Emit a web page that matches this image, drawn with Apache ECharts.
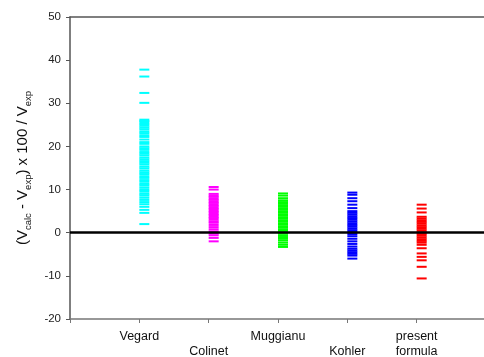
<!DOCTYPE html>
<html>
<head>
<meta charset="utf-8">
<script src="https://cdn.jsdelivr.net/npm/echarts@6/dist/echarts.min.js"></script>
<style>
  html, body { margin: 0; padding: 0; background: #fff; }
  #chart { width: 484px; height: 357px; }
</style>
</head>
<body>
<div id="chart"></div>
<script>
// categories along the x axis (positions 1..5)
const categories = ['Vegard', 'Colinet', 'Muggianu', 'Kohler', 'present\nformula'];
const colors = ['#00ffff', '#ff00ff', '#00ff00', '#0000ff', '#ff0000'];
const yTicks = [-20, -10, 0, 10, 20, 30, 40, 50];

// deviations (%), one list per method
const vegard = [37.8, 36.2, 32.4, 30.1, 26.2, 25.9, 25.6, 25.2, 24.8, 24.4, 24.0, 23.5, 23.1, 22.6,
  22.2, 21.6, 21.0, 20.6, 20.0, 19.6, 19.2, 18.7, 18.3, 17.9, 17.4, 17.0, 16.6, 16.2, 15.8, 15.3,
  14.9, 14.4, 14.0, 13.6, 13.1, 12.7, 12.2, 11.8, 11.3, 10.9, 10.4, 9.9, 9.5, 9.0, 8.6, 8.1, 7.6,
  7.1, 6.6, 6.0, 5.3, 4.6, 2.0];
const colinet = [10.6, 10.0, 9.0, 8.6, 8.3, 7.9, 7.6, 7.2, 6.9, 6.5, 6.2, 5.8, 5.5, 5.1, 4.8, 4.4,
  4.1, 3.7, 3.4, 3.0, 2.6, 2.3, 1.8, 1.3, 0.8, 0.3, -0.2, -0.6, -1.2, -2.0];
const muggianu = [9.1, 8.6, 8.0, 7.5, 7.1, 6.8, 6.4, 6.1, 5.7, 5.4, 5.0, 4.7, 4.3, 4.0, 3.6, 3.3,
  2.9, 2.6, 2.2, 1.9, 1.5, 1.2, 0.8, 0.5, 0.2, -0.2, -0.6, -1.0, -1.4, -1.8, -2.3, -2.8, -3.3];
const kohler = [9.3, 8.8, 8.0, 7.3, 6.5, 5.7, 5.0, 4.6, 4.2, 3.8, 3.4, 3.0, 2.6, 2.2, 1.8, 1.4,
  1.0, 0.6, 0.2, -0.3, -0.8, -1.4, -2.0, -2.6, -3.2, -3.7, -4.1, -4.5, -4.9, -5.3, -6.0];
const present = [6.5, 5.6, 4.7, 3.7, 3.3, 2.9, 2.5, 2.1, 1.7, 1.3, 0.9, 0.5, 0.1, -0.3, -0.7, -1.1,
  -1.5, -1.9, -2.3, -2.8, -3.6, -4.8, -5.6, -6.4, -7.9, -10.6];

const groups = [vegard, colinet, muggianu, kohler, present];
const font = 'Liberation Sans, Arial, sans-serif';

const chart = echarts.init(document.getElementById('chart'));

const series = groups.map((vals, i) => ({
  type: 'scatter',
  name: categories[i],
  data: vals.map((v) => [i + 1, v]),
  symbol: 'rect',
  symbolSize: [10, 2],
  symbolOffset: [5, 0],
  itemStyle: { color: colors[i], opacity: 1 },
  silent: true,
  z: 3
}));

// zero reference line
series.push({
  type: 'line',
  data: [],
  markLine: {
    silent: true,
    symbol: 'none',
    label: { show: false },
    lineStyle: { color: '#000', width: 2.5, type: 'solid' },
    data: [{ yAxis: 0 }]
  },
  z: 5
});

chart.setOption({
  backgroundColor: '#fff',
  animation: false,
  grid: { left: 70, top: 17, width: 416, bottom: 38, outerBoundsMode: 'none' },
  xAxis: [
    {
      type: 'value',
      min: 0,
      max: 6,
      interval: 1,
      position: 'bottom',
      splitLine: { show: false },
      axisLine: { show: true, onZero: false, lineStyle: { color: '#777', width: 1.5 } },
      axisTick: { show: true, length: 4, lineStyle: { color: '#777' } },
      axisLabel: {
        margin: 10,
        color: '#111',
        fontFamily: font,
        fontSize: 12.5,
        lineHeight: 15,
        formatter: (v) => {
          const name = categories[v - 1];
          if (!name) return '';
          return (v === 2 || v === 4) ? '\n' + name : name;
        }
      }
    },
    {
      type: 'value',
      min: 0,
      max: 6,
      position: 'top',
      splitLine: { show: false },
      axisLine: { show: true, onZero: false, lineStyle: { color: '#555', width: 1.5 } },
      axisTick: { show: false },
      axisLabel: { show: false }
    }
  ],
  yAxis: {
    type: 'value',
    min: yTicks[0],
    max: yTicks[yTicks.length - 1],
    interval: 10,
    splitLine: { show: false },
    axisLine: { show: true, onZero: false, lineStyle: { color: '#555', width: 1.5 } },
    axisTick: { show: true, length: 4, lineStyle: { color: '#555' } },
    axisLabel: { margin: 9, color: '#222', fontFamily: font, fontSize: 11.5 },
    name: '{n|(V}{s|calc}{n| - V}{s|exp}{n|) x 100 / V}{s|exp}',
    nameLocation: 'middle',
    nameRotate: 90,
    nameGap: 40,
    nameTextStyle: {
      fontFamily: font,
      color: '#111',
      rich: {
        n: { fontSize: 15, fontFamily: font, color: '#111', lineHeight: 20, verticalAlign: 'bottom' },
        s: { fontSize: 9.5, fontFamily: font, color: '#111', lineHeight: 20, verticalAlign: 'bottom', padding: [0, 0, -3, 0] }
      }
    }
  },
  series: series
});
</script>
</body>
</html>
